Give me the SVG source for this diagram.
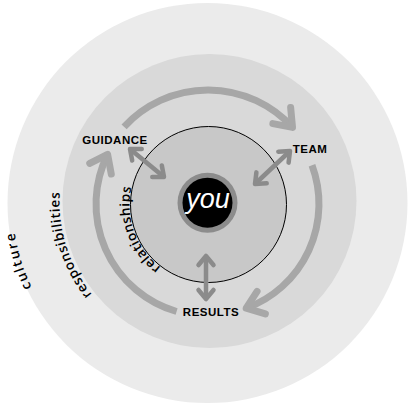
<svg xmlns="http://www.w3.org/2000/svg" width="412" height="406" viewBox="0 0 412 406">
<style>
.ring{font-family:"Open Sans","Noto Sans",sans-serif;font-size:13.5px;font-weight:600;fill:#000}
.lbl{font-family:"Liberation Sans",Arial,sans-serif;font-size:11.5px;font-weight:bold;letter-spacing:0.5px;fill:#000;text-anchor:middle}
.cyc{fill:none;stroke:#a7a7a7;stroke-width:7}
.dbl{fill:none;stroke:#8b8b8b;stroke-width:4.5}
</style>
<defs>
<marker id="chev" markerUnits="userSpaceOnUse" markerWidth="40" markerHeight="40" refX="0" refY="0" orient="auto" overflow="visible" viewBox="-20 -20 40 40">
<path d="M-16,-12 L0,0 L-16,12" fill="none" stroke="#a7a7a7" stroke-width="7" stroke-linejoin="round" stroke-linecap="round"/>
</marker>
<marker id="dchev" markerUnits="userSpaceOnUse" markerWidth="30" markerHeight="30" refX="0" refY="0" orient="auto-start-reverse" overflow="visible" viewBox="-15 -15 30 30">
<path d="M-9,-7.5 L0,0 L-9,7.5" fill="none" stroke="#8b8b8b" stroke-width="4.5" stroke-linejoin="round" stroke-linecap="round"/>
</marker>
<path id="pCulture" d="M115.9,375.2 A195,195 0 0 1 35.3,111.4"/>
<path id="pResp" d="M140.2,334.1 A150,150 0 0 1 76.4,131.7"/>
<path id="pRel" d="M175.1,276.1 A79,79 0 0 1 136.9,171.1"/>
</defs>
<g id="culture">
<circle cx="207.5" cy="203" r="200" fill="#ebebeb"/>
<text class="ring" letter-spacing="1.8"><textPath href="#pCulture" startOffset="50%" text-anchor="middle">culture</textPath></text>
</g>
<g id="responsibilities">
<circle cx="209.5" cy="201" r="147" fill="#d9d9d9"/>
<text class="ring" letter-spacing="0.7"><textPath href="#pResp" startOffset="50%" text-anchor="middle">responsibilities</textPath></text>
</g>
<g id="relationships">
<circle cx="208.5" cy="204.5" r="78" fill="#c8c8c8" stroke="#000" stroke-width="1"/>
<text class="ring" letter-spacing="0.4"><textPath href="#pRel" startOffset="50%" text-anchor="middle">relationships</textPath></text>
</g>
<g id="connectors">
<path class="cyc" d="M124.1,126.8 A114,114 0 0 1 292.5,127.4" marker-end="url(#chev)"/>
<path class="cyc" d="M312,165.3 A111,111 0 0 1 246.2,308.2" marker-end="url(#chev)"/>
<path class="cyc" d="M176.6,311.5 A112,112 0 0 1 107.6,154.4" marker-end="url(#chev)"/>
<path class="dbl" d="M130,149 L164,177" marker-start="url(#dchev)" marker-end="url(#dchev)"/>
<path class="dbl" d="M290,151 L255,184" marker-start="url(#dchev)" marker-end="url(#dchev)"/>
<path class="dbl" d="M206,256 L206,299" marker-start="url(#dchev)" marker-end="url(#dchev)"/>
</g>
<g id="you">
<circle cx="207.5" cy="202.7" r="30" fill="#8c8c8c"/>
<circle cx="207.5" cy="202.7" r="25" fill="#000"/>
<text x="208" y="208" font-family="Liberation Sans, Arial, sans-serif" font-style="italic" font-size="27" fill="#fff" text-anchor="middle">you</text>
</g>
<g id="guidance"><text class="lbl" x="115" y="144">GUIDANCE</text></g>
<g id="team"><text class="lbl" x="310" y="153">TEAM</text></g>
<g id="results"><text class="lbl" x="211" y="316">RESULTS</text></g>
</svg>
